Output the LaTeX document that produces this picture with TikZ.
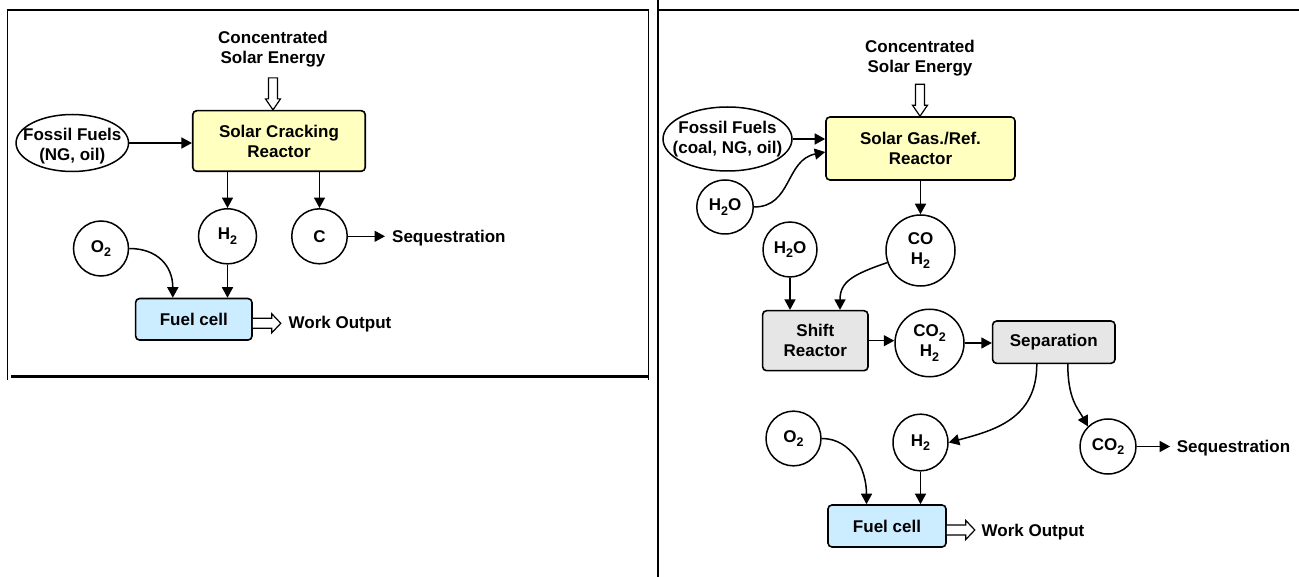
\documentclass[tikz,border=0pt]{standalone}
\usepackage{fontspec}
\setmainfont{Liberation Sans}
\usetikzlibrary{arrows.meta,calc,shapes.geometric}
\definecolor{yel}{RGB}{255,255,192}
\definecolor{blu}{RGB}{204,236,255}
\definecolor{gry}{RGB}{230,230,230}
\newcommand{\lowsub}[1]{\raisebox{-4.5pt}{\fontsize{12.5}{12.5}\selectfont #1}}
\begin{document}
\begin{tikzpicture}[x=1pt,y=-1pt,
  every node/.style={font=\bfseries\fontsize{17}{20}\selectfont, inner sep=0pt, align=center},
  box/.style={draw, line width=1.6pt, rounded corners=4pt},
  circ/.style={draw, ellipse, line width=1.5pt},
  conn/.style={line width=1.5pt, -{Triangle[length=10.5pt,width=11pt]}},
  hollow/.style={draw, line width=1.2pt, fill=white, line join=miter},
  frame/.style={line width=1.5pt}]
\useasboundingbox (0,0) rectangle (1299,577);
% ---------------- left panel ----------------
\draw[frame] (7.5,380) -- (7.5,10) -- (648.5,10) -- (648.5,380);
\draw[line width=2.5pt] (11,376.5) -- (648.5,376.5);

\node (CSE1) at (273,49.5) {Concentrated\\Solar Energy};
\node[box, fill=yel, minimum width=172.5, minimum height=60.6] (R1) at (279,141) {Solar Cracking\\Reactor};
\draw[hollow] (R1.north -| CSE1) -- ++(-7.5,-11) -- ++(3,0) -- ++(0,-21) -- ++(9,0) -- ++(0,21) -- ++(3,0) -- cycle;
\node[circ, minimum width=112.5, minimum height=57,
  label={[name=FF1t, yshift=-3pt]center:{Fossil Fuels\\(NG, oil)}}] (FF1) at (72.3,143) {};
\draw[conn] (FF1.east) -- (FF1.east -| R1.west);
\node[circ, minimum width=58, minimum height=55] (H1) at (227.5,236.3) {H\lowsub{2}};
\node[circ, minimum width=55.5, minimum height=55] (C1) at (319.5,236.3) {C};
\node[circ, minimum width=55, minimum height=55] (O1) at (101,248.5) {O\lowsub{2}};
\node[box, fill=blu, minimum width=116.4, minimum height=41.5] (FC1) at (193.8,319.3) {Fuel cell};
\node[anchor=west] (SQ1) at (392,238.6) {Sequestration};
\node[anchor=base west] (WO1) at (288.5,329) {Work Output};
\draw[conn] (R1.south -| H1) -- (H1.north);
\draw[conn] (R1.south -| C1) -- (C1.north);
\draw[conn] (H1.south) -- (H1.south |- FC1.north);
\draw[conn] (O1.east) .. controls +(28,0) and +(0,-32) .. ($(FC1.north)+(-21,0)$);
\draw[conn, shorten >=7pt] (C1.east) -- (C1.east -| SQ1.west);
\draw[hollow] ($(FC1.east)+(0,-1)$) -- ++(19,0) -- ++(0,-4.5) -- ++(9,9.5) -- ++(-9,9.5) -- ++(0,-4.5) -- ++(-19,0);

% ---------------- right panel ----------------
\draw[frame] (658,0) -- (658,577);
\draw[frame] (658,10) -- (1299,10);

\node (CSE2) at (920,58.5) {Concentrated\\Solar Energy};
\node[box, fill=yel, minimum width=189, minimum height=63] (R2) at (920.5,148.5) {Solar Gas./Ref.\\Reactor};
\draw[hollow] (R2.north -| CSE2) -- ++(-7.5,-11) -- ++(3,0) -- ++(0,-21) -- ++(9,0) -- ++(0,21) -- ++(3,0) -- cycle;
\node[circ, minimum width=129, minimum height=64,
  label={[name=FF2t]center:{Fossil Fuels\\(coal, NG, oil)}}] (FF2) at (727.5,139) {};
\node[circ, minimum width=56.5, minimum height=54] (W1) at (725,207) {H\lowsub{2}O};
\draw[conn] (FF2.east) -- (FF2.east -| R2.west);
\draw[conn] (W1.east) .. controls +(38,0) and +(-40,8) .. ($(R2.west)+(0,3.5)$);
\node[circ, minimum width=69, minimum height=71] (CO) at (920.5,250.5) {CO\\H\lowsub{2}};
\draw[conn] (R2.south) -- (CO.north);
\node[circ, minimum width=54, minimum height=55] (W2) at (790,249.5) {H\lowsub{2}O};
\node[box, fill=gry, minimum width=105.4, minimum height=60] (SR) at (815.3,340.7) {Shift\\Reactor};
\draw[conn] (W2.south) -- (W2.south |- SR.north);
\draw[conn] (CO.200) .. controls +(-35,12) and +(0,-28) .. ($(SR.north)+(24.7,0)$);
\node[circ, minimum width=69, minimum height=67.5] (CH) at (929.5,343) {CO\lowsub{2}\\H\lowsub{2}};
\draw[conn] (SR.east) -- (SR.east -| CH.west);
\node[box, fill=gry, minimum width=122.4, minimum height=42.3] (SEP) at (1053.8,342.2) {Separation};
\draw[conn] (CH.east) -- (CH.east -| SEP.west);
\node[circ, minimum width=55, minimum height=54.7] (O2b) at (793.5,438.5) {O\lowsub{2}};
\node[circ, minimum width=55, minimum height=56.7] (H2b) at (920.5,442.5) {H\lowsub{2}};
\node[circ, minimum width=56, minimum height=55] (CO2) at (1108,446.5) {CO\lowsub{2}};
\draw[conn] ($(SEP.south)+(-17,0)$) .. controls +(0,55) and +(45,-12) .. (H2b.east);
\draw[conn] ($(SEP.south)+(14,0)$) .. controls +(0,35) and +(-10,-18) .. (CO2.135);
\node[anchor=west] (SQ2) at (1176.6,448.3) {Sequestration};
\draw[conn, shorten >=6.5pt] (CO2.east) -- (CO2.east -| SQ2.west);
\node[box, fill=blu, minimum width=118, minimum height=42] (FC2) at (887,526) {Fuel cell};
\draw[conn] (H2b.south) -- (H2b.south |- FC2.north);
\draw[conn] (O2b.east) .. controls +(30,0) and +(0,-35) .. ($(FC2.north)+(-20.5,0)$);
\draw[hollow] ($(FC2.east)+(0,-1)$) -- ++(19,0) -- ++(0,-4.5) -- ++(9,9.5) -- ++(-9,9.5) -- ++(0,-4.5) -- ++(-19,0);
\node[anchor=base west] (WO2) at (981.5,536.7) {Work Output};
\end{tikzpicture}
\end{document}
